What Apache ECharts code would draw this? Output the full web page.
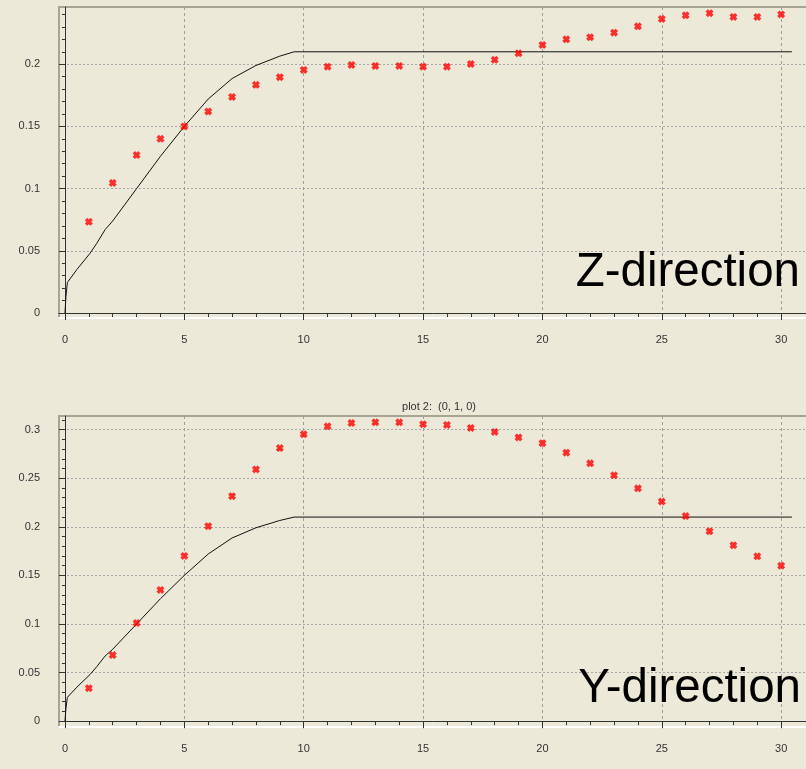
<!DOCTYPE html>
<html>
<head>
<meta charset="utf-8">
<script src="https://cdn.jsdelivr.net/npm/echarts@6/dist/echarts.min.js"></script>
<style>
  html, body { margin: 0; padding: 0; background: #ECE9D8; }
  #chart { width: 806px; height: 769px; }
</style>
</head>
<body>
<div id="chart"></div>
<script>
// reference curve (same in both plots)
const lineX = [0, 0.04, 0.1, 0.5, 1.05, 1.33, 1.68, 2, 3, 4, 5, 6, 7, 8, 9, 9.6, 30.45];
const lineY = [0, 0.013, 0.0245, 0.035, 0.048, 0.056, 0.067, 0.074, 0.1, 0.126, 0.15, 0.172, 0.1885, 0.199, 0.2065, 0.21, 0.21];

// measured points, x = 1..30
const stepX = [1, 2, 3, 4, 5, 6, 7, 8, 9, 10, 11, 12, 13, 14, 15, 16, 17, 18, 19, 20, 21, 22, 23, 24, 25, 26, 27, 28, 29, 30];
const zValues = [0.0733, 0.1046, 0.127, 0.140, 0.150, 0.162, 0.1737, 0.1834, 0.1896, 0.1954, 0.198, 0.1994, 0.1986, 0.1986, 0.198,
  0.198, 0.2002, 0.2035, 0.2088, 0.2155, 0.220, 0.2217, 0.2254, 0.2305, 0.2364, 0.2393, 0.241, 0.238, 0.238, 0.240];
const yValues = [0.034, 0.068, 0.101, 0.135, 0.170, 0.2006, 0.2315, 0.259, 0.281, 0.2952, 0.3034, 0.3068, 0.3075, 0.3075, 0.3055,
  0.3048, 0.3017, 0.2976, 0.292, 0.286, 0.2763, 0.2653, 0.253, 0.2396, 0.226, 0.211, 0.1954, 0.181, 0.1696, 0.160];

// tick labels
const xMajor = [0, 5, 10, 15, 20, 25, 30];
const xMinor = stepX.concat([0]);
const zMajor = [0, 0.05, 0.1, 0.15, 0.2];
const yMajor = [0, 0.05, 0.1, 0.15, 0.2, 0.25, 0.3];
const zMinor = Array.from({ length: 25 }, (_, i) => i / 100);
const yMinor = Array.from({ length: 32 }, (_, i) => i / 100);

const BG = "#ECE9D8";
const FRAME = "#A6A493";
const AXIS = "#333333";
const FONT = "Liberation Sans";
const crossSymbol = "path://M0,3 L3,0 L5,2 L7,0 L10,3 L8,5 L10,7 L7,10 L5,8 L3,10 L0,7 L2,5 Z";

const label = { color: AXIS, fontSize: 11, fontFamily: FONT };

const xAxesFor = (gridIndex) => [
  {
    gridIndex, type: "value", min: -0.25, max: 31.25, position: "bottom", offset: 6,
    axisLine: { lineStyle: { color: AXIS, width: 1 } },
    axisTick: { customValues: xMajor, length: 7, lineStyle: { color: AXIS } },
    axisLabel: { ...label, customValues: xMajor, margin: 10 },
    splitLine: { show: true, lineStyle: { color: "#9E9E9E", type: [3, 3], width: 1 } },
  },
  {
    gridIndex, type: "value", min: -0.25, max: 31.25, position: "bottom", offset: 6,
    axisLine: { show: false },
    axisTick: { customValues: xMinor, length: 4, lineStyle: { color: AXIS } },
    axisLabel: { show: false },
    splitLine: { show: false },
  },
  {
    gridIndex, type: "value", min: -0.25, max: 31.25, position: "bottom", offset: 0,
    axisLine: { lineStyle: { color: "#FFFFFF", width: 2 } },
    axisTick: { show: false },
    axisLabel: { show: false },
    splitLine: { show: false },
  },
];

const yAxesFor = (gridIndex, min, max, major, minor) => [
  {
    gridIndex, type: "value", min, max, position: "left", offset: 7,
    axisLine: { show: true, lineStyle: { color: AXIS, width: 1 } },
    axisTick: { show: true, customValues: major, length: 6, lineStyle: { color: AXIS } },
    axisLabel: { ...label, customValues: major, margin: 12 },
    splitLine: { show: true, lineStyle: { color: "#A8A8A8", type: [2, 2], width: 1 } },
  },
  {
    gridIndex, type: "value", min, max, position: "left", offset: 7,
    axisLine: { show: false },
    axisTick: { show: true, customValues: minor, length: 3, lineStyle: { color: AXIS } },
    axisLabel: { show: false },
    splitLine: { show: false },
  },
];

const curve = lineX.map((x, i) => [x, lineY[i]]);
const curveSeries = (xAxisIndex, yAxisIndex) => ({
  type: "line", xAxisIndex, yAxisIndex, data: curve,
  symbol: "none", lineStyle: { color: "#111111", width: 1 }, z: 3, silent: true,
});
const markSeries = (name, values, xAxisIndex, yAxisIndex) => ({
  name, type: "scatter", xAxisIndex, yAxisIndex,
  data: stepX.map((x, i) => [x, values[i]]),
  symbol: crossSymbol, symbolSize: 8,
  itemStyle: { color: "#FF0000" }, z: 4,
});

const bigText = { fontSize: 47.5, lineHeight: 48, fontWeight: "normal", color: "#000", fontFamily: FONT };

const chart = echarts.init(document.getElementById("chart"), null, { renderer: "canvas" });
chart.setOption({
  backgroundColor: BG,
  animation: false,
  title: [
    {
      text: "plot 2:  (0, 1, 0)", left: 434, top: 396, textAlign: "center",
      textStyle: { fontSize: 11, fontWeight: "normal", color: AXIS, fontFamily: FONT },
    },
    { text: "Z-direction", right: 1, top: 244, textStyle: bigText },
    { text: "Y-direction", right: 0, top: 660, textStyle: bigText },
  ],
  grid: [
    { left: 59, right: -5, top: 7, height: 311, show: true, backgroundColor: BG, borderColor: FRAME, borderWidth: 2, outerBoundsMode: "none" },
    { left: 59, right: -5, top: 416, height: 311, show: true, backgroundColor: BG, borderColor: FRAME, borderWidth: 2, outerBoundsMode: "none" },
  ],
  xAxis: [...xAxesFor(0), ...xAxesFor(1)],
  yAxis: [
    ...yAxesFor(0, -0.004, 0.246, zMajor, zMinor),
    ...yAxesFor(1, -0.006, 0.314, yMajor, yMinor),
  ],
  series: [
    curveSeries(0, 0),
    markSeries("Z-direction", zValues, 0, 0),
    curveSeries(3, 2),
    markSeries("Y-direction", yValues, 3, 2),
  ],
});
</script>
</body>
</html>
